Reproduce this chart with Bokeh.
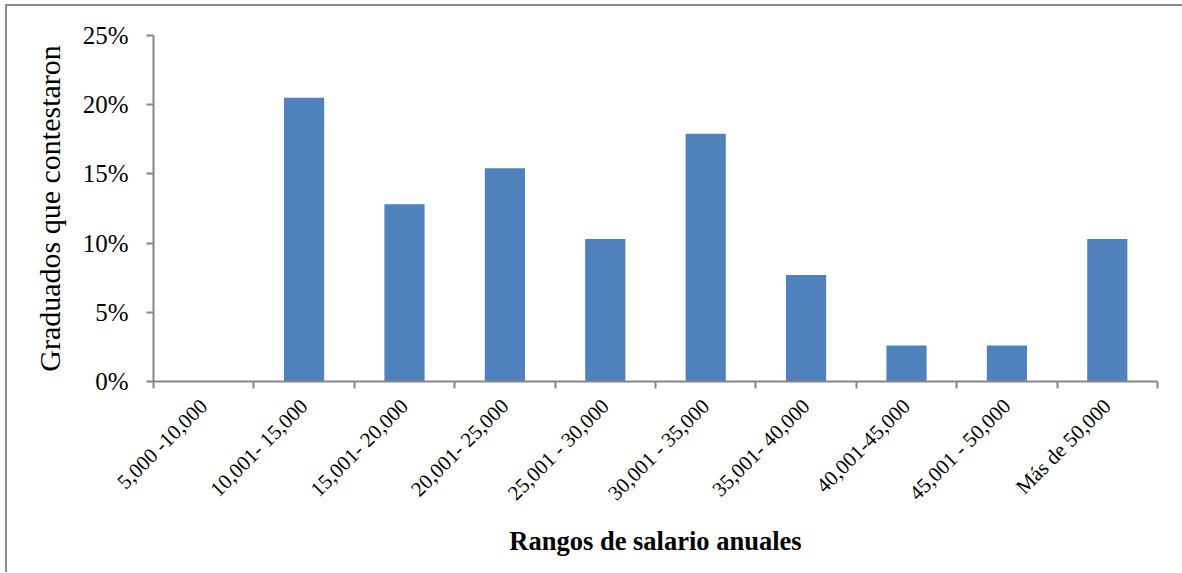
import math
from bokeh.plotting import figure
from bokeh.models import Range1d, FixedTicker, NumeralTickFormatter, ColumnDataSource
from bokeh.embed import file_html
from bokeh.resources import INLINE

categories = ["5,000 -10,000", "10,001- 15,000", "15,001- 20,000", "20,001- 25,000",
              "25,001 - 30,000", "30,001 - 35,000", "35,001- 40,000", "40,001-45,000",
              "45,001 - 50,000", "Más de 50,000"]
values = [0.0, 0.205, 0.128, 0.154, 0.103, 0.179, 0.077, 0.026, 0.026, 0.103]
y_ticks = [0.0, 0.05, 0.10, 0.15, 0.20, 0.25]

BAR = "#4F81BD"
AXIS = "#868686"
FONT = "Liberation Serif"

n = len(categories)
centers = [i + 0.5 for i in range(n)]
src = ColumnDataSource(dict(x=centers, top=values, cat=categories))

p = figure(output_backend="svg", toolbar_location=None,
           width=1175, height=566,
           frame_width=1004, frame_height=346,
           min_border_left=146, min_border_top=29, min_border_right=25, min_border_bottom=191,
           x_range=Range1d(0, n), y_range=Range1d(0, 0.25))
p.styles = {"border-left": "2px solid #8c8c8c", "border-top": "2px solid #8c8c8c",
            "margin-left": "5px", "margin-top": "4px"}

p.vbar(x="x", top="top", width=0.4, bottom=0, source=src, fill_color=BAR, line_color=None)

p.xgrid.visible = False
p.ygrid.visible = False
p.outline_line_color = None
p.background_fill_color = "white"
p.border_fill_color = "white"

xa = p.xaxis[0]
xa.ticker = FixedTicker(ticks=centers, minor_ticks=list(range(n + 1)))
xa.major_label_overrides = {c: lab for c, lab in zip(centers, categories)}
xa.major_label_orientation = math.pi / 4
xa.major_tick_out = 0
xa.major_tick_in = 0
xa.major_tick_line_color = None
xa.minor_tick_out = 7
xa.minor_tick_in = 0
xa.minor_tick_line_color = AXIS
xa.minor_tick_line_width = 2
xa.axis_line_color = AXIS
xa.axis_line_width = 2
xa.major_label_text_font = FONT
xa.major_label_text_font_size = "21px"
xa.major_label_text_color = "black"
xa.major_label_standoff = 14
xa.axis_label = "Rangos de salario anuales"
xa.axis_label_text_font = FONT
xa.axis_label_text_font_style = "bold"
xa.axis_label_text_font_size = "26.5px"
xa.axis_label_text_color = "black"
xa.axis_label_standoff = 9

ya = p.yaxis[0]
ya.ticker = FixedTicker(ticks=y_ticks, minor_ticks=[])
ya.formatter = NumeralTickFormatter(format="0%")
ya.major_tick_out = 7
ya.major_tick_in = 0
ya.major_tick_line_color = AXIS
ya.major_tick_line_width = 2
ya.minor_tick_out = 0
ya.minor_tick_in = 0
ya.axis_line_color = AXIS
ya.axis_line_width = 2
ya.major_label_text_font = FONT
ya.major_label_text_font_size = "25px"
ya.major_label_text_color = "black"
ya.major_label_standoff = 18
ya.axis_label = "Graduados que contestaron"
ya.axis_label_text_font = FONT
ya.axis_label_text_font_style = "normal"
ya.axis_label_text_font_size = "30px"
ya.axis_label_text_color = "black"
ya.axis_label_standoff = 14

open("out.html", "w").write(file_html(p, INLINE))
